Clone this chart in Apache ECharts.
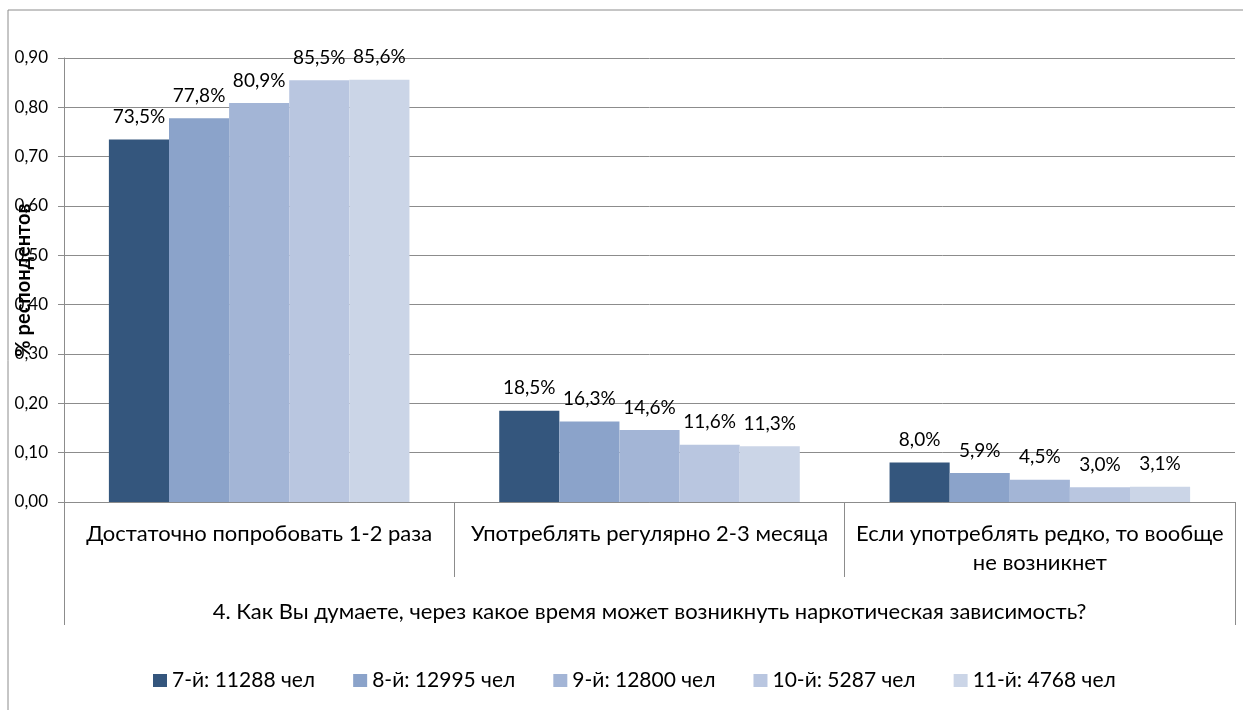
<!DOCTYPE html>
<html>
<head>
<meta charset="utf-8">
<script src="https://cdn.jsdelivr.net/npm/echarts@6/dist/echarts.min.js"></script>
<style>
    html, body { margin: 0; padding: 0; background: #fff; }
    #chart { width: 1243px; height: 710px; }
</style>
</head>
<body>
<div id="chart"></div>
<script>
// категории ответов
var categories = [
    'Достаточно попробовать 1-2 раза',
    'Употреблять регулярно 2-3 месяца',
    'Если употреблять редко, то вообще\nне возникнет'
];
var question = '4. Как Вы думаете, через какое время может возникнуть наркотическая зависимость?';
var seriesNames = ['7-й: 11288 чел', '8-й: 12995 чел', '9-й: 12800 чел', '10-й: 5287 чел', '11-й: 4768 чел'];
var grade7 = [0.735, 0.185, 0.080];
var grade8 = [0.778, 0.163, 0.059];
var grade9 = [0.809, 0.146, 0.045];
var grade10 = [0.855, 0.116, 0.030];
var grade11 = [0.856, 0.113, 0.031];
var yTicks = [0, 0.1, 0.2, 0.3, 0.4, 0.5, 0.6, 0.7, 0.8, 0.9];

var colors = ['#34567d', '#8ba3ca', '#a3b5d6', '#b9c6e0', '#cbd5e7'];
var font = 'Lato, "Open Sans", sans-serif';
var gray = '#8c8c8c';

var chart = echarts.init(document.getElementById('chart'));

var allData = [grade7, grade8, grade9, grade10, grade11];
var series = allData.map(function (d, i) {
    return {
        name: seriesNames[i],
        type: 'bar',
        data: d,
        barGap: 0,
        barCategoryGap: '23%',
        itemStyle: { color: colors[i] },
        label: {
            show: true,
            position: 'top',
            distance: 13,
            color: '#000',
            fontFamily: font,
            fontSize: 19,
            formatter: function (p) {
                return (p.value * 100).toFixed(1).replace('.', ',') + '%';
            }
        }
    };
});

var option = {
    animation: false,
    color: colors,
    graphic: [{
        type: 'rect',
        shape: { x: 8, y: 10, width: 1260, height: 730 },
        style: { fill: 'none', stroke: gray, lineWidth: 1 },
        silent: true
    }],
    grid: {
        left: 64,
        right: 8,
        top: 58,
        bottom: 208,
        outerBoundsMode: 'none'
    },
    legend: {
        top: 665,
        left: 148,
        itemWidth: 14,
        itemHeight: 13,
        itemGap: 38,
        icon: 'rect',
        textStyle: { fontFamily: font, fontSize: 21, color: '#000' },
        data: seriesNames
    },
    xAxis: [{
        type: 'category',
        data: categories,
        axisLine: { lineStyle: { color: gray } },
        axisTick: { show: true, interval: 0, length: 75, lineStyle: { color: gray } },
        axisLabel: {
            interval: 0,
            margin: 17,
            color: '#000',
            fontFamily: font,
            fontSize: 22,
            lineHeight: 29
        }
    }, {
        type: 'category',
        position: 'bottom',
        data: [question],
        axisLine: { show: false },
        axisTick: { show: true, length: 123, lineStyle: { color: gray } },
        axisLabel: {
            margin: 96,
            color: '#000',
            fontFamily: font,
            fontSize: 22,
            lineHeight: 28
        }
    }],
    yAxis: {
        type: 'value',
        min: yTicks[0],
        max: yTicks[yTicks.length - 1],
        interval: 0.1,
        name: '% респондентов',
        nameLocation: 'middle',
        nameRotate: 90,
        nameGap: 30,
        nameMoveOverlap: false,
        nameTextStyle: { fontFamily: font, fontSize: 20, fontWeight: 'bold', color: '#000' },
        axisLine: { show: true, lineStyle: { color: gray } },
        axisTick: { show: true, length: 6, lineStyle: { color: gray } },
        splitLine: { lineStyle: { color: gray } },
        axisLabel: {
            margin: 16,
            color: '#000',
            fontFamily: font,
            fontSize: 17,
            formatter: function (v) { return v.toFixed(2).replace('.', ','); }
        }
    },
    series: series
};

chart.setOption(option);
</script>
</body>
</html>
